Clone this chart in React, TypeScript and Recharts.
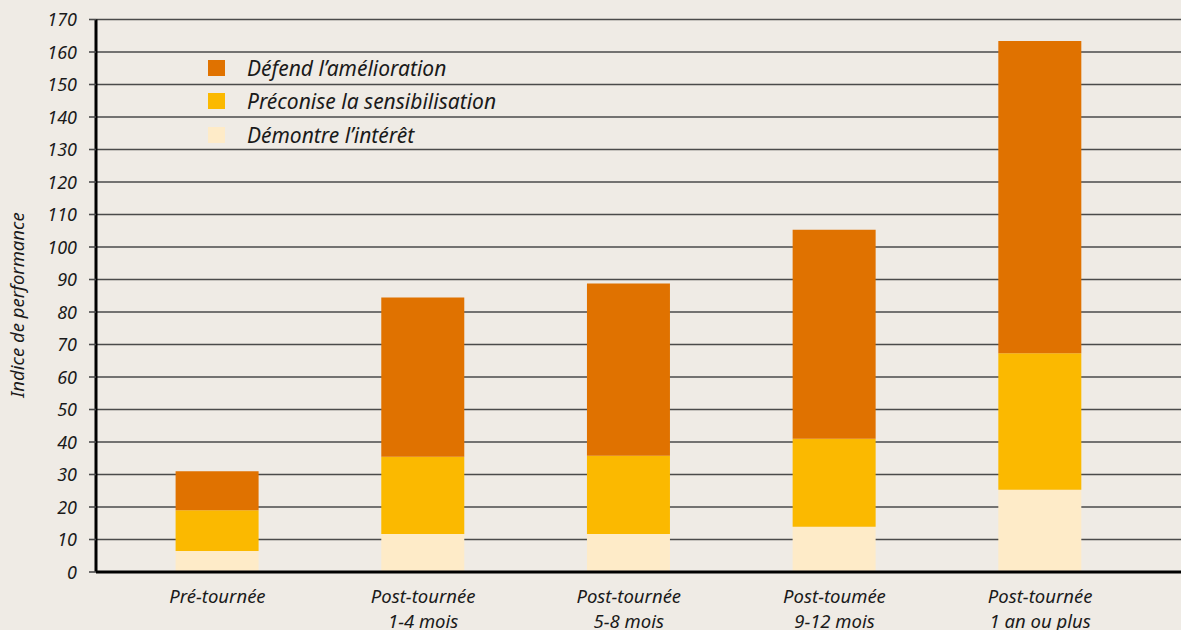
import React from 'react';
import { BarChart, Bar, XAxis, YAxis, CartesianGrid } from 'recharts';

const categories = [
  'Pré-tournée',
  'Post-tournée|1-4 mois',
  'Post-tournée|5-8 mois',
  'Post-toumée|9-12 mois',
  'Post-tournée|1 an ou plus',
];
const demontre = [6.5, 11.7, 11.7, 13.9, 25.3];
const preconise = [12.5, 23.8, 24.1, 27.1, 42.0];
const defend = [12.0, 49.0, 53.0, 64.3, 96.1];
const yTicks = [0, 10, 20, 30, 40, 50, 60, 70, 80, 90, 100, 110, 120, 130, 140, 150, 160, 170];
const yTitle = 'Indice de performance';

const seriesNames = {
  demontre: 'Démontre l’intérêt',
  preconise: 'Préconise la sensibilisation',
  defend: 'Défend l’amélioration',
};
const colors = { demontre: '#FEEBC8', preconise: '#FBB900', defend: '#E07200' };

const data = categories.map((c, i) => ({
  name: c,
  demontre: demontre[i],
  preconise: preconise[i],
  defend: defend[i],
}));

const FONT = '"Noto Sans", sans-serif';

const XTick = (props: any) => {
  const { x, payload } = props;
  const lines = String(payload.value).split('|');
  return (
    <text x={x} y={572} textAnchor="middle" fontFamily={FONT} fontStyle="italic" fontSize={18.5} fill="#1a1a1a">
      {lines.map((l, i) => (
        <tspan key={i} x={x} dy={i === 0 ? 31 : 24.5}>{l}</tspan>
      ))}
    </text>
  );
};

const YTick = (props: any) => {
  const { x, y, payload } = props;
  return (
    <text x={x} y={y} dy={6.5} textAnchor="end" fontFamily={FONT} fontStyle="italic" fontSize={18} fill="#1a1a1a">
      {payload.value}
    </text>
  );
};

const YTitle = () => (
  <text
    transform="translate(24,305) rotate(-90)"
    textAnchor="middle"
    fontFamily={FONT}
    fontStyle="italic"
    fontSize={18.5}
    fill="#1a1a1a"
  >
    {yTitle}
  </text>
);

const LegendBox = () => {
  const keys: Array<'defend' | 'preconise' | 'demontre'> = ['defend', 'preconise', 'demontre'];
  return (
    <div style={{ position: 'absolute', left: 208, top: 51, width: 400 }}>
      {keys.map((k) => (
        <div key={k} style={{ display: 'flex', alignItems: 'center', height: 33.5 }}>
          <div style={{ width: 17, height: 16, background: colors[k], marginRight: 22 }} />
          <span style={{ fontFamily: FONT, fontStyle: 'italic', fontSize: 21, color: '#1a1a1a' }}>{seriesNames[k]}</span>
        </div>
      ))}
    </div>
  );
};

export default function App() {
  return (
    <div style={{ position: 'absolute', left: 0, top: 0, width: 1181, height: 630, background: '#EFEBE5', overflow: 'hidden' }}>
      <BarChart width={1181} height={630} data={data} margin={{ top: 19.5, right: 0, bottom: 28, left: 0 }}>
        <CartesianGrid vertical={false} stroke="#4a4a4a" strokeWidth={1.6} />
        <XAxis
          dataKey="name"
          height={30}
          interval={0}
          tick={<XTick />}
          tickLine={false}
          axisLine={{ stroke: '#000', strokeWidth: 3 }}
          padding={{ left: 18.6, right: 38 }}
        />
        <YAxis
          width={96}
          domain={[0, 170]}
          ticks={yTicks}
          interval={0}
          tick={<YTick />}
          tickSize={7}
          tickMargin={12}
          tickLine={{ stroke: '#4a4a4a', strokeWidth: 1.6 }}
          axisLine={{ stroke: '#000', strokeWidth: 3 }}
          label={{ content: () => <YTitle /> }}
        />
        <Bar dataKey="demontre" stackId="a" fill={colors.demontre} barSize={83} isAnimationActive={false} />
        <Bar dataKey="preconise" stackId="a" fill={colors.preconise} barSize={83} isAnimationActive={false} />
        <Bar dataKey="defend" stackId="a" fill={colors.defend} barSize={83} isAnimationActive={false} />
      </BarChart>
      <LegendBox />
    </div>
  );
}
